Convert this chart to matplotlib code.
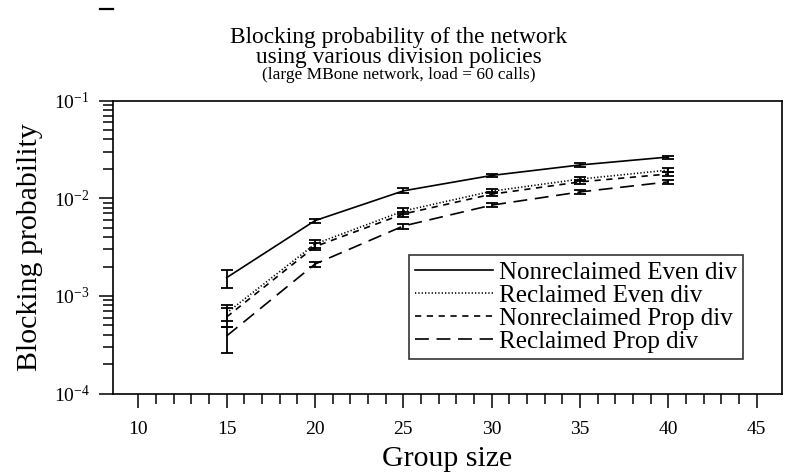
import matplotlib
matplotlib.use("Agg")
import matplotlib.pyplot as plt
from matplotlib.lines import Line2D
from matplotlib.ticker import LogLocator, FixedLocator, NullFormatter, FixedFormatter
import numpy as np

plt.rcParams['font.family'] = ['Liberation Serif', 'DejaVu Serif']
plt.rcParams['mathtext.fontset'] = 'custom'
plt.rcParams['mathtext.rm'] = 'Liberation Serif'
plt.rcParams['mathtext.it'] = 'Liberation Serif:italic'
plt.rcParams['lines.scale_dashes'] = False

# ---- data ----
group_size = [15, 20, 25, 30, 35, 40]

series_names = ["Nonreclaimed Even div", "Reclaimed Even div",
                "Nonreclaimed Prop div", "Reclaimed Prop div"]

nonrecl_even = [1.54e-3, 5.9e-3, 1.19e-2, 1.71e-2, 2.19e-2, 2.64e-2]
nonrecl_even_lo = [1.22e-3, 5.6e-3, 1.12e-2, 1.64e-2, 2.11e-2, 2.55e-2]
nonrecl_even_hi = [1.84e-3, 6.2e-3, 1.26e-2, 1.78e-2, 2.27e-2, 2.73e-2]

recl_even = [6.7e-4, 3.4e-3, 7.4e-3, 1.18e-2, 1.57e-2, 1.94e-2]
recl_even_lo = [5.5e-4, 3.1e-3, 6.9e-3, 1.12e-2, 1.50e-2, 1.86e-2]
recl_even_hi = [8.1e-4, 3.7e-3, 7.9e-3, 1.24e-2, 1.64e-2, 2.02e-2]

nonrecl_prop = [6.1e-4, 3.2e-3, 6.9e-3, 1.10e-2, 1.47e-2, 1.77e-2]
nonrecl_prop_lo = [4.8e-4, 2.95e-3, 6.5e-3, 1.05e-2, 1.41e-2, 1.70e-2]
nonrecl_prop_hi = [7.5e-4, 3.45e-3, 7.3e-3, 1.15e-2, 1.53e-2, 1.84e-2]

recl_prop = [3.9e-4, 2.12e-3, 5.2e-3, 8.5e-3, 1.16e-2, 1.47e-2]
recl_prop_lo = [2.6e-4, 2.0e-3, 4.9e-3, 8.1e-3, 1.11e-2, 1.41e-2]
recl_prop_hi = [4.8e-4, 2.25e-3, 5.5e-3, 8.9e-3, 1.21e-2, 1.53e-2]

x_tick_labels = ["10", "15", "20", "25", "30", "35", "40", "45"]

title_line1 = "Blocking probability of the network"
title_line2 = "using various division policies"
title_line3 = "(large MBone network, load = 60 calls)"

# ---- figure ----
fig = plt.figure(figsize=(7.88, 4.74), dpi=100)
ax = fig.add_axes([113.3 / 788, 1 - 393.7 / 474, (781.7 - 113.3) / 788, (393.7 - 100.5) / 474])

styles = [
    dict(ls='-', lw=1.2),
    dict(ls=(0, (0.9, 1.5)), lw=1.2),
    dict(ls=(0, (4.5, 4.0)), lw=1.2),
    dict(ls=(0, (10, 5.5)), lw=1.2),
]
vals = [nonrecl_even, recl_even, nonrecl_prop, recl_prop]
los = [nonrecl_even_lo, recl_even_lo, nonrecl_prop_lo, recl_prop_lo]
his = [nonrecl_even_hi, recl_even_hi, nonrecl_prop_hi, recl_prop_hi]

handles = []
for name, v, lo, hi, st in zip(series_names, vals, los, his, styles):
    v = np.array(v); lo = np.array(lo); hi = np.array(hi)
    ax.errorbar(group_size, v, yerr=[v - lo, hi - v], fmt='none', ecolor='black',
                elinewidth=1.3, capsize=4.2, capthick=1.3)
    line, = ax.plot(group_size, v, color='black', linestyle=st['ls'], lw=st['lw'])
    handles.append(line)

ax.set_yscale('log')
ax.set_xlim(8.585, 46.415)
ax.set_ylim(1e-4, 1e-1)

ax.xaxis.set_major_locator(FixedLocator([10, 15, 20, 25, 30, 35, 40, 45]))
ax.xaxis.set_major_formatter(FixedFormatter(x_tick_labels))
ax.xaxis.set_minor_locator(FixedLocator(list(range(10, 46))))
ax.yaxis.set_major_locator(LogLocator(base=10, numticks=10))
ax.yaxis.set_minor_locator(LogLocator(base=10, subs=np.arange(2, 10), numticks=20))
ax.yaxis.set_minor_formatter(NullFormatter())

ax.tick_params(axis='both', which='major', direction='out', length=10, width=1.1,
               labelsize=14)
ax.tick_params(axis='x', which='major', pad=9.5)
ax.tick_params(axis='y', which='major', pad=7)
ax.tick_params(axis='both', which='minor', direction='out', length=7, width=1.1)
ax.tick_params(top=False, right=False, which='both')
for s in ax.spines.values():
    s.set_linewidth(1.2)

ax.set_xlabel("Group size", fontsize=21.5, labelpad=6)
ax.set_ylabel("Blocking probability", fontsize=21.5, labelpad=8)

leg = ax.legend(handles, series_names, loc='upper right',
                bbox_to_anchor=((743.3 - 113.3) / 668.4, 1 - (255 - 100.5) / 293.2),
                borderaxespad=0, fontsize=18, frameon=True, fancybox=False,
                edgecolor='black', handlelength=3.1, handletextpad=0.25,
                labelspacing=0.02, borderpad=0.25)
leg.get_frame().set_linewidth(1.2)

cx = 399 / 788
fig.text(cx, 1 - 43.3 / 474, title_line1, ha='center', va='baseline', fontsize=16.8)
fig.text(cx, 1 - 62.5 / 474, title_line2, ha='center', va='baseline', fontsize=16.8)
fig.text(cx, 1 - 79.0 / 474, title_line3, ha='center', va='baseline', fontsize=12.4)

# stray mark at top-left of the original
fig.add_artist(Line2D([100 / 788, 113 / 788], [1 - 9 / 474, 1 - 9 / 474],
                      transform=fig.transFigure, color='black', lw=1.6))

fig.savefig("out.png", dpi=100)
